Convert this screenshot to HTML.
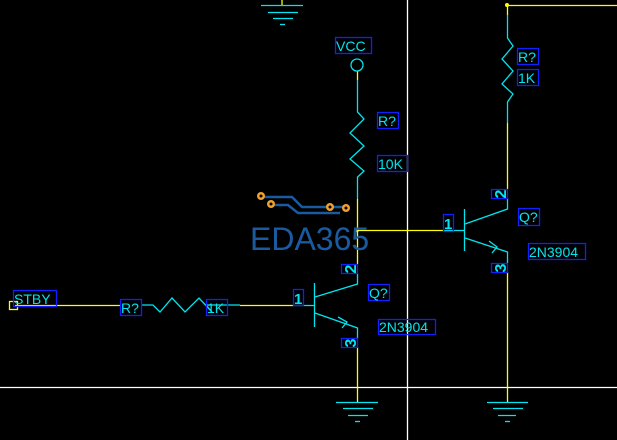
<!DOCTYPE html>
<html><head><style>
html,body{margin:0;padding:0;background:#000;width:617px;height:440px;overflow:hidden}
svg{display:block}
text{font-family:"Liberation Sans",sans-serif;fill:#00e5ef}
</style></head><body>
<svg width="617" height="440" viewBox="0 0 617 440" xmlns="http://www.w3.org/2000/svg">
<g stroke="#fff" stroke-width="1.3"><line x1="407.5" y1="0" x2="407.5" y2="440"/><line x1="0" y1="387.5" x2="617" y2="387.5"/></g>
<g stroke="#ffff00" stroke-width="1.3" fill="none">
<line x1="282" y1="0" x2="282" y2="5"/>
<line x1="357.5" y1="71" x2="357.5" y2="80"/>
<line x1="357.5" y1="199" x2="357.5" y2="264"/>
<line x1="357" y1="230.5" x2="443" y2="230.5"/>
<line x1="357.5" y1="347" x2="357.5" y2="402"/>
<line x1="507.5" y1="5" x2="507.5" y2="15"/>
<line x1="507" y1="5.5" x2="617" y2="5.5"/>
<line x1="507.5" y1="123" x2="507.5" y2="189"/>
<line x1="507.5" y1="272" x2="507.5" y2="402"/>
<line x1="15" y1="305.5" x2="120" y2="305.5"/>
<line x1="240" y1="305.5" x2="293" y2="305.5"/>
<rect x="9.5" y="301.5" width="8" height="8"/>
</g>
<circle cx="507" cy="5" r="2" fill="#ffff00"/><circle cx="357" cy="230" r="2" fill="#ffff00"/>
<g stroke="#00e5ef" stroke-width="1.3" fill="none">
<line x1="261" y1="5.5" x2="303" y2="5.5"/><line x1="268" y1="12.5" x2="298" y2="12.5"/><line x1="273" y1="18.5" x2="293" y2="18.5"/><line x1="280" y1="24.5" x2="285" y2="24.5"/>
<line x1="336" y1="402.5" x2="378" y2="402.5"/><line x1="343" y1="408.5" x2="373" y2="408.5"/><line x1="348" y1="415.5" x2="368" y2="415.5"/><line x1="355" y1="421.5" x2="360" y2="421.5"/>
<line x1="487" y1="402.5" x2="528" y2="402.5"/><line x1="493" y1="408.5" x2="523" y2="408.5"/><line x1="498" y1="415.5" x2="516" y2="415.5"/><line x1="505" y1="421.5" x2="510" y2="421.5"/>
<circle cx="357" cy="65" r="6"/>
<polyline points="357.5,80 357.5,112 364,119 350,133 364,146 350,159 364,171 357.5,177 357.5,199"/>
<polyline points="507.5,15 507.5,38 513,46 502,59 513,71 502,84 513,94 507.5,102 507.5,123"/>
<polyline points="141,305 153,305 160,312 172,298 185,312 199,298 212,312 206,305 240,305"/>
<line x1="293" y1="305.5" x2="314" y2="305.5"/>
<line x1="314.5" y1="283" x2="314.5" y2="327"/>
<polyline points="315,297 357.5,284 357.5,273"/>
<polyline points="315,313 357.5,328 357.5,338"/>
<polyline points="338,317 347,322 342,328"/>
<line x1="443" y1="230.5" x2="464" y2="230.5"/>
<line x1="464.5" y1="209" x2="464.5" y2="251"/>
<polyline points="465,224 507.5,209 507.5,198"/>
<polyline points="465,238 507.5,252 507.5,263"/>
<polyline points="489,241 497,247 492,253"/>
</g>
<g stroke="#1020ff" stroke-width="1.3" fill="none">
<rect x="335.5" y="37.5" width="36" height="16"/>
<rect x="377.5" y="112.5" width="21" height="16"/>
<rect x="377.5" y="155.5" width="30" height="16"/>
<rect x="517.5" y="48.5" width="21" height="16"/>
<rect x="517.5" y="69.5" width="21" height="16"/>
<rect x="13.5" y="290.5" width="43" height="16"/>
<rect x="120.5" y="299.5" width="21" height="16"/>
<rect x="206.5" y="299.5" width="21" height="16"/>
<rect x="293.5" y="289.5" width="10" height="16"/>
<rect x="341.5" y="264.5" width="16" height="9"/>
<rect x="341.5" y="338.5" width="16" height="9"/>
<rect x="368.5" y="284.5" width="21" height="16"/>
<rect x="378.5" y="319.5" width="57" height="15"/>
<rect x="443.5" y="214.5" width="10" height="17"/>
<rect x="491.5" y="189.5" width="16" height="9"/>
<rect x="491.5" y="263.5" width="16" height="9"/>
<rect x="518.5" y="208.5" width="21" height="17"/>
<rect x="528.5" y="243.5" width="57" height="16"/>
</g>
<g font-size="14">
<text x="336" y="51">VCC</text>
<text x="378" y="126">R?</text>
<text x="378" y="169">10K</text>
<text x="518" y="62">R?</text>
<text x="518" y="83">1K</text>
<text x="14" y="304">STBY</text>
<text x="121" y="313">R?</text>
<text x="207" y="313">1K</text>
<text x="369" y="298">Q?</text>
<text x="379" y="332">2N3904</text>
<text x="519" y="222">Q?</text>
<text x="529" y="257">2N3904</text>
</g>
<g font-size="15" font-weight="bold">
<text x="294" y="304">1</text>
<text x="444" y="229">1</text>
<text transform="translate(356,269) rotate(-90)" text-anchor="middle" dominant-baseline="auto" font-size="16">2</text>
<text transform="translate(356,343) rotate(-90)" text-anchor="middle" font-size="16">3</text>
<text transform="translate(506,194) rotate(-90)" text-anchor="middle" font-size="16">2</text>
<text transform="translate(506,268) rotate(-90)" text-anchor="middle" font-size="16">3</text>
</g>
<g stroke="#1a5aa0" stroke-width="2.5" fill="none">
<polyline points="261,197 292,197 302,207 345,207"/>
<polyline points="271,205 288,205 298,213 340,213"/>
</g>
<g fill="#f0a030" stroke="none">
<circle cx="261" cy="196" r="4"/><circle cx="271" cy="204" r="4"/><circle cx="330" cy="207" r="4"/><circle cx="346" cy="208" r="4"/>
</g>
<g fill="#000"><circle cx="261" cy="196" r="1.5"/><circle cx="271" cy="204" r="1.5"/><circle cx="330" cy="207" r="1.5"/><circle cx="346" cy="208" r="1.5"/></g>
<text x="250" y="250" font-size="32" style="fill:#1a5aa0">EDA365</text>
</svg>
</body></html>
